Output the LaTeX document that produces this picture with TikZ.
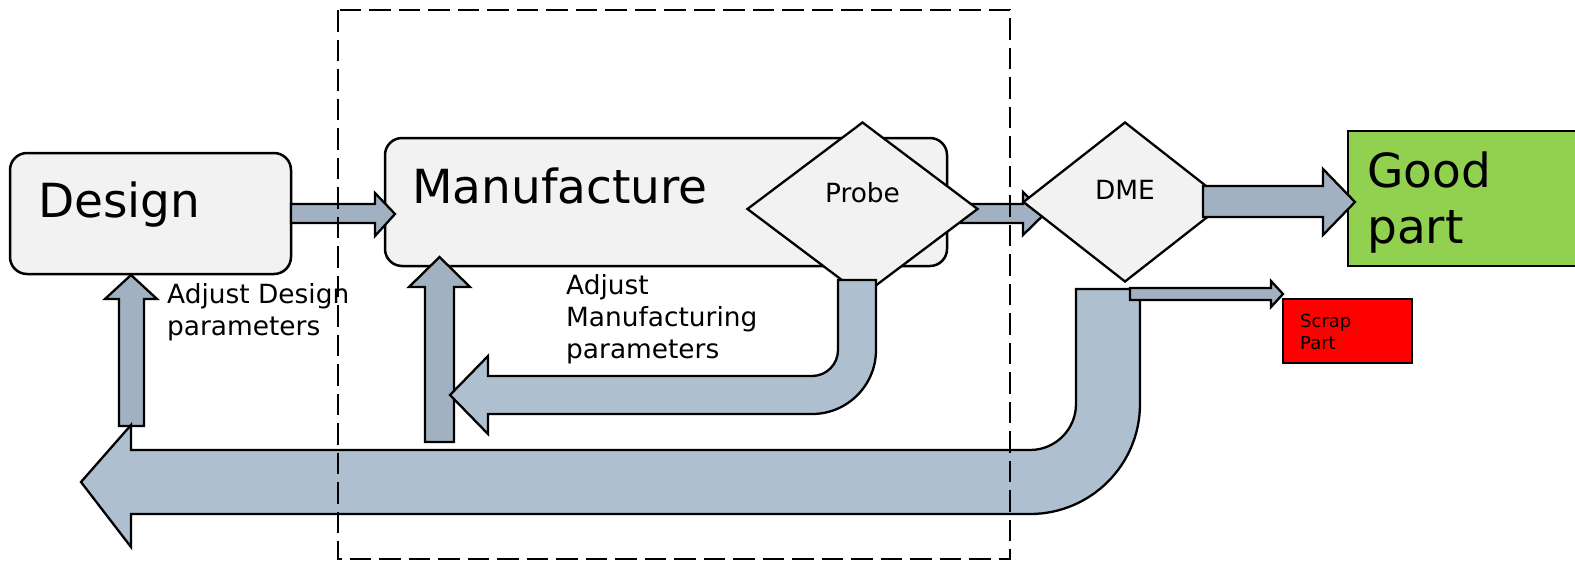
\documentclass[tikz,border=0pt]{standalone}
\usepackage{fontspec}
\setmainfont{DejaVu Sans}
\usetikzlibrary{shapes.geometric}
\definecolor{boxfill}{HTML}{F2F2F2}
\definecolor{arrA}{HTML}{A2B1C1}
\definecolor{arrB}{HTML}{AEBFCF}
\definecolor{goodgreen}{HTML}{92D050}
\begin{document}
\begin{tikzpicture}[x=1pt,y=-1pt,
  box/.style={draw, line width=2.5pt, fill=boxfill, rounded corners=17pt, inner sep=0pt},
  dia/.style={draw, line width=2.3pt, fill=boxfill, diamond, inner sep=0pt},
  arrowA/.style={draw, line width=2.3pt, fill=arrA, line join=miter},
  arrowB/.style={draw, line width=2.3pt, fill=arrB, line join=miter},
  big/.style={font=\fontsize{47}{56}\selectfont, inner sep=0pt, anchor=base west},
  mid/.style={font=\fontsize{26.4}{32}\selectfont, inner sep=0pt},
  small/.style={font=\fontsize{18}{22}\selectfont, inner sep=0pt, anchor=base west},
  dashbox/.style={draw, line width=2.8pt, dash pattern=on 21.5pt off 8pt}]
\clip (0,0) rectangle (1575,563);

% boxes
\node[box, minimum width=281pt, minimum height=121pt] (design) at (150.5,213.5) {};
\node[box, minimum width=562pt, minimum height=128pt] (manu) at (666,202) {};
\node[draw, line width=2.3pt, fill=goodgreen, minimum width=240pt, minimum height=135pt, inner sep=0pt, anchor=north west] (good) at (1347,130) {};
\node[draw, line width=2pt, fill=red, minimum width=129pt, minimum height=64pt, inner sep=0pt, anchor=north west] (scrap) at (1282,298) {};

% Design -> Manufacture
\draw[arrowA] (291,204) -- (375,204) -- (375,193) -- (395,214) -- (375,236) -- (375,223) -- (291,223) -- cycle;
% up arrow to Design
\draw[arrowA] (119,426) -- (119,299) -- (105,299) -- (131,275) -- (157,299) -- (144,299) -- (144,426) -- cycle;
% up arrow to Manufacture
\draw[arrowA] (425,442) -- (425,287) -- (409,287) -- (439.5,257) -- (470,287) -- (454,287) -- (454,442) -- cycle;
% Probe -> DME
\draw[arrowA] (955,204) -- (1023,204) -- (1023,192) -- (1045,213.5) -- (1023,235) -- (1023,223) -- (955,223) -- cycle;

% diamonds
\node[dia, minimum width=231pt, minimum height=174pt] (probe) at (862.5,209) {};
\node[dia, minimum width=204pt, minimum height=160pt] (dme) at (1125,202) {};

% manufacturing feedback bent arrow
\draw[arrowB] (838,280) -- (876,280) -- (876,350) arc (0:90:64) -- (488,414) -- (488,434) -- (450,395) -- (488,356) -- (488,376) -- (812,376) arc (90:0:26) -- cycle;
% design feedback bent arrow
\draw[arrowB] (1076,289) -- (1140,289) -- (1140,404) arc (0:90:110) -- (131,514) -- (131,547) -- (81,482) -- (131,425) -- (131,450) -- (1030,450) arc (90:0:46) -- cycle;
% scrap arrow
\draw[arrowA] (1130,288) -- (1271,288) -- (1271,281) -- (1283,294) -- (1271,307) -- (1271,300) -- (1130,300) -- cycle;
% DME -> Good
\draw[arrowA] (1203,186) -- (1323,186) -- (1323,169) -- (1355,202) -- (1323,235) -- (1323,217) -- (1203,217) -- cycle;

% texts
\node[big] (tdesign) at (38,217) {Design};
\node[big] (tmanu) at (412,203) {Manufacture};
\node[big] (tgood1) at (1367,187) {Good};
\node[big] (tgood2) at (1367,243) {part};
\node[mid, anchor=base] (tprobe) at (862.5,202) {Probe};
\node[mid, anchor=base] (tdme) at (1125,199) {DME};
\node[mid, anchor=base west] (tad1) at (167,303) {Adjust Design};
\node[mid, anchor=base west] (tad2) at (167,335) {parameters};
\node[mid, anchor=base west] (tam1) at (566,294) {Adjust};
\node[mid, anchor=base west] (tam2) at (566,326) {Manufacturing};
\node[mid, anchor=base west] (tam3) at (566,358) {parameters};
\node[small] (ts1) at (1300,327) {Scrap};
\node[small] (ts2) at (1300,349) {Part};

% dashed frame
\draw[dashbox] (338,10) rectangle (1010,559);
\end{tikzpicture}
\end{document}
